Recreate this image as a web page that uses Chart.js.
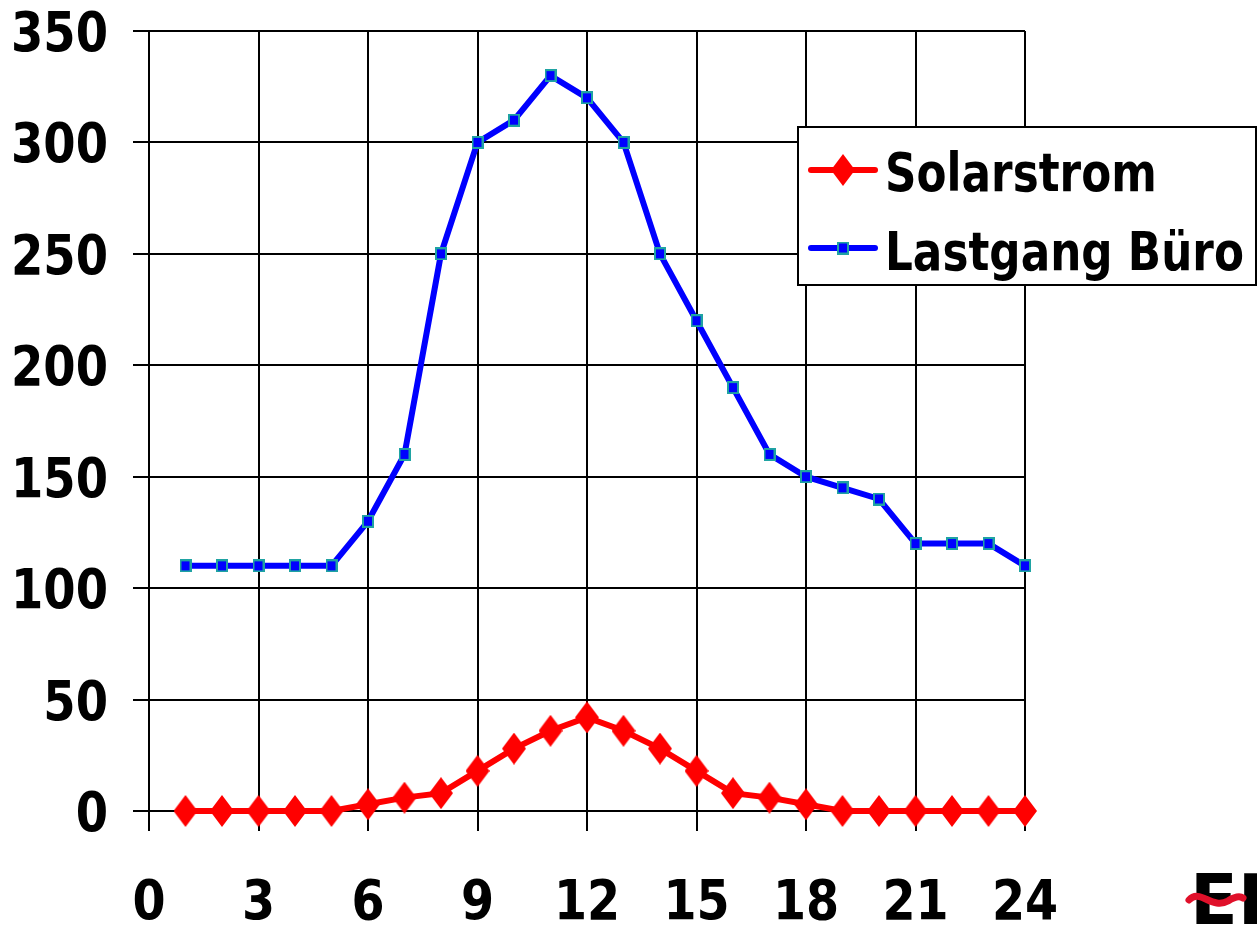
<!DOCTYPE html>
<html>
<head>
<meta charset="utf-8">
<script src="https://cdn.jsdelivr.net/npm/chart.js@4/dist/chart.umd.min.js"></script>
<style>
  html, body { margin: 0; padding: 0; background: #fff; }
  #wrap { width: 1257px; height: 926px; }
</style>
</head>
<body>
<div id="wrap"><canvas id="c" width="1257" height="926"></canvas></div>
<script>
// Stunden 1..24
var hours = [1, 2, 3, 4, 5, 6, 7, 8, 9, 10, 11, 12, 13, 14, 15, 16, 17, 18, 19, 20, 21, 22, 23, 24];
var solarstrom = [0, 0, 0, 0, 0, 3, 6, 8, 18, 28, 36, 42, 36, 28, 18, 8, 6, 3, 0, 0, 0, 0, 0, 0];
var lastgangBuero = [110, 110, 110, 110, 110, 130, 160, 250, 300, 310, 330, 320, 300, 250, 220, 190, 160, 150, 145, 140, 120, 120, 120, 110];
var seriesNames = ['Solarstrom', 'Lastgang Büro'];

var FONT = "'DejaVu Sans', sans-serif";

function toXY(ys) {
  return ys.map(function (y, i) { return { x: hours[i], y: y }; });
}

// Raute (schmal und hoch)
function makeDiamond() {
  var c = document.createElement('canvas');
  c.width = 24; c.height = 32;
  var g = c.getContext('2d');
  g.fillStyle = '#ff0000';
  g.beginPath();
  g.moveTo(12, 0); g.lineTo(24, 16); g.lineTo(12, 32); g.lineTo(0, 16);
  g.closePath(); g.fill();
  return c;
}
// Quadrat mit türkisem Rand
function makeSquare() {
  var c = document.createElement('canvas');
  c.width = 12; c.height = 13;
  var g = c.getContext('2d');
  g.fillStyle = '#1fa3a3';
  g.fillRect(0, 0, 12, 13);
  g.fillStyle = '#0000ff';
  g.fillRect(2, 2, 8, 9);
  return c;
}
var diamond = makeDiamond();
var square = makeSquare();

// Schrift etwas schmaler wie im Original
function squeezedText(ctx, text, x, y, align, sx) {
  ctx.save();
  ctx.translate(x, y);
  ctx.scale(sx, 1);
  ctx.textAlign = align;
  ctx.textBaseline = 'alphabetic';
  ctx.fillText(text, 0, 0);
  ctx.restore();
}

// Achsenbeschriftung aus den Ticks der Skalen zeichnen
var tickLabelPlugin = {
  id: 'tickLabels',
  afterDraw: function (chart) {
    var ctx = chart.ctx;
    var xs = chart.scales.x, ys = chart.scales.y;
    ctx.save();
    ctx.fillStyle = '#000';
    ctx.font = 'bold 56px ' + FONT;
    ys.ticks.forEach(function (t) {
      squeezedText(ctx, String(t.value), 108, ys.getPixelForValue(t.value) + 20, 'right', 0.83);
    });
    xs.ticks.forEach(function (t) {
      squeezedText(ctx, String(t.value), xs.getPixelForValue(t.value), 919, 'center', 0.85);
    });
    ctx.restore();
  }
};

var legendPlugin = {
  id: 'boxLegend',
  afterDraw: function (chart) {
    var ctx = chart.ctx;
    ctx.save();
    // Kasten
    ctx.fillStyle = '#fff';
    ctx.fillRect(798, 127, 458, 158);
    ctx.strokeStyle = '#000';
    ctx.lineWidth = 2;
    ctx.strokeRect(798, 127, 458, 158);
    var rows = [
      { y: 170, base: 191, color: '#ff0000', img: diamond, text: seriesNames[0] },
      { y: 248, base: 270, color: '#0000ff', img: square, text: seriesNames[1] }
    ];
    rows.forEach(function (r) {
      ctx.strokeStyle = r.color;
      ctx.lineWidth = 6;
      ctx.lineCap = 'round';
      ctx.beginPath();
      ctx.moveTo(811, r.y); ctx.lineTo(875, r.y);
      ctx.stroke();
      ctx.drawImage(r.img, 843 - r.img.width / 2, r.y - r.img.height / 2);
      ctx.fillStyle = '#000';
      ctx.font = 'bold 54px ' + FONT;
      squeezedText(ctx, r.text, 885, r.base, 'left', 0.81);
    });
    // Logo-Rest unten rechts
    ctx.fillStyle = '#000';
    ctx.font = 'bold 70px ' + FONT;
    ctx.textBaseline = 'alphabetic';
    ctx.textAlign = 'left';
    ctx.fillText('EI', 1190, 924);
    ctx.strokeStyle = '#e0102a';
    ctx.lineWidth = 7;
    ctx.lineCap = 'round';
    ctx.beginPath();
    ctx.moveTo(1189, 900);
    ctx.bezierCurveTo(1200, 888, 1212, 910, 1228, 901);
    ctx.bezierCurveTo(1236, 896, 1240, 896, 1243, 898);
    ctx.stroke();
    ctx.restore();
  }
};

new Chart(document.getElementById('c'), {
  type: 'line',
  data: {
    datasets: [
      {
        label: seriesNames[0],
        data: toXY(solarstrom),
        borderColor: '#ff0000',
        borderWidth: 6,
        pointStyle: diamond,
        pointRadius: 12,
        clip: false,
        tension: 0
      },
      {
        label: seriesNames[1],
        data: toXY(lastgangBuero),
        borderColor: '#0000ff',
        borderWidth: 6,
        pointStyle: square,
        pointRadius: 7,
        clip: false,
        tension: 0
      }
    ]
  },
  options: {
    responsive: false,
    animation: false,
    events: [],
    layout: { padding: { top: 31, right: 232, left: 0, bottom: 0 } },
    plugins: { legend: { display: false }, tooltip: { enabled: false } },
    scales: {
      x: {
        type: 'linear',
        min: 0, max: 24,
        afterFit: function (s) { s.height = 115; },
        ticks: { stepSize: 3, display: false },
        grid: { color: '#000', lineWidth: 2, tickLength: 20 },
        border: { color: '#000', width: 2 }
      },
      y: {
        min: 0, max: 350,
        afterFit: function (s) { s.width = 149; },
        ticks: { stepSize: 50, display: false },
        grid: { color: '#000', lineWidth: 2, tickLength: 16 },
        border: { color: '#000', width: 2 }
      }
    }
  },
  plugins: [tickLabelPlugin, legendPlugin]
});
</script>
</body>
</html>
